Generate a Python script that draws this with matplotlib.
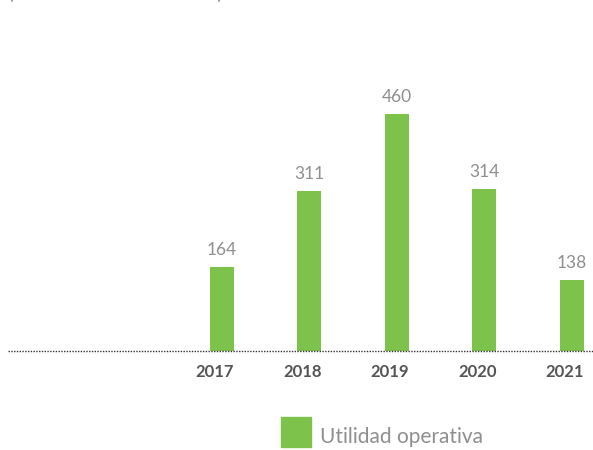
import matplotlib
matplotlib.use("Agg")
import matplotlib.pyplot as plt

years = ["2017", "2018", "2019", "2020", "2021"]
utilidad = [164, 311, 460, 314, 138]
series_name = "Utilidad operativa"
subtitle = "(en millones de dólares)"

GREEN = "#7dc24b"
W, H = 593, 450
fig = plt.figure(figsize=(W / 100, H / 100), dpi=100)
ax = fig.add_axes([0, 0, 1, 1])

# pixel geometry: first bar centre, spacing, baseline and scale
x0, step = 222.0, 87.5
bar_w = 24 / step
base, ppu = 351.0, 0.515
ax.set_xlim(-x0 / step, (W - x0) / step)
ax.set_ylim(-(H - base) / ppu, base / ppu)
ax.axis("off")

def px_x(p):
    return (p - x0) / step

def px_y(p):
    return (base - p) / ppu

pos = list(range(len(years)))
ax.bar(pos, utilidad, width=bar_w, color=GREEN, zorder=2)

for i, v in zip(pos, utilidad):
    ax.text(i, v + 12 / ppu, f"{v}", ha="center", va="baseline",
            fontsize=12.5, color="#8f8f8f", family="Lato")

# year labels sit flush with the right edge of each bar
for i, y in zip(pos, years):
    ax.text(i + bar_w / 2, px_y(377), y, ha="right", va="baseline",
            fontsize=12, color="#555555", family="Lato", fontweight="bold")

ax.plot([px_x(8), px_x(W)], [0, 0], linestyle=(0, (1, 1)), color="#333333",
        linewidth=1.0, zorder=3)

# legend
ax.add_patch(plt.Rectangle((px_x(281), px_y(447)), 30 / step, 30 / ppu,
                           color=GREEN, clip_on=False))
ax.text(px_x(320), px_y(443), series_name, ha="left", va="baseline",
        fontsize=15, color="#8f8f8f", family="Lato")

# subtitle running off the top edge
ax.text(px_x(8), px_y(-1), subtitle, ha="left", va="baseline",
        fontsize=15, color="#8f8f8f", family="Lato", clip_on=False)

fig.savefig("out.png", dpi=100)
